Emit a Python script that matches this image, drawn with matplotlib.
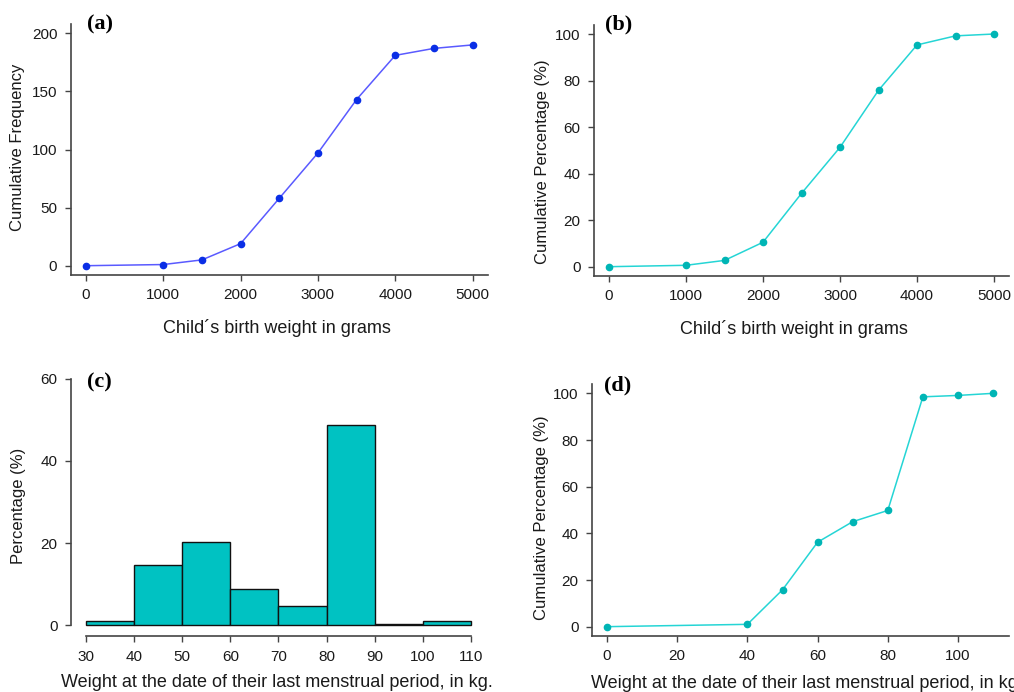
'''Birth weight and maternal weight: cumulative curves and histogram (4 panels)'''
import numpy as np
from matplotlib import pyplot as plt

plt.rcParams['font.family'] = ['Liberation Sans', 'DejaVu Sans']

# child's birth weight in grams
birth_weight = [0, 1000, 1500, 2000, 2500, 3000, 3500, 4000, 4500, 5000]
cum_frequency = [0, 1, 5, 19, 58, 97, 143, 181, 187, 190]
cum_percentage = [0, 0.6, 2.7, 10.5, 31.5, 51.3, 75.8, 95.3, 99.2, 100]

# mother's weight at last menstrual period (kg)
weight_bins = [30, 40, 50, 60, 70, 80, 90, 100, 110]
weight_pct = [1.0, 14.7, 20.2, 8.9, 4.6, 48.7, 0.4, 1.0]
weight_x = [0, 40, 50, 60, 70, 80, 90, 100, 110]
weight_cum_pct = [0, 1.0, 15.8, 36.2, 45.0, 49.8, 98.5, 99.1, 100]

W, H = 1014, 692
AXIS_COL = '#444444'
TXT_COL = '#1a1a1a'
TICK_FS = 11
XLAB_FS = 13
YLAB_FS = 12


def px_rect(left, top, right, bottom):
    return [left / W, 1 - bottom / H, (right - left) / W, (bottom - top) / H]


def style_axes(ax):
    for side in ['top', 'right']:
        ax.spines[side].set_visible(False)
    for side in ['left', 'bottom']:
        ax.spines[side].set_color(AXIS_COL)
        ax.spines[side].set_linewidth(1.2)
    ax.tick_params(direction='out', length=4.5, width=1.0, color=AXIS_COL,
                   labelsize=TICK_FS, labelcolor=TXT_COL, pad=5)


def set_labels(ax, xlabel, ylabel, xpos, ypos):
    ax.set_xlabel(xlabel, fontsize=XLAB_FS, color=TXT_COL)
    ax.set_ylabel(ylabel, fontsize=YLAB_FS, color=TXT_COL)
    ax.xaxis.set_label_coords(*xpos)
    ax.yaxis.set_label_coords(*ypos)
    ax.xaxis.label.set_va('center')
    ax.yaxis.label.set_va('center')


def panel_tag(ax, tag, x, y):
    ax.text(x, y, tag, transform=ax.transAxes, fontsize=16, fontweight='bold',
            family=['Liberation Serif', 'DejaVu Serif'], va='center', ha='left')


fig = plt.figure(figsize=(W / 100, H / 100), dpi=100)

# (a) cumulative frequency
ax = fig.add_axes(px_rect(70.5, 24, 488, 275))
ax.plot(birth_weight, cum_frequency, '-', color='#5a5aff', lw=1.1)
ax.plot(birth_weight, cum_frequency, 'o', color='#0a2ee6', ms=4.5)
ax.set_xlim(-200, 5200)
ax.set_ylim(-8, 208)
ax.set_xticks(range(0, 5001, 1000))
ax.set_yticks(range(0, 201, 50))
style_axes(ax)
set_labels(ax, 'Child\u00b4s birth weight in grams', 'Cumulative Frequency',
           (0.495, -0.21), (-0.126, 0.51))
panel_tag(ax, '(a)', 0.04, 1.0)

# (b) cumulative percentage
ax = fig.add_axes(px_rect(593.6, 24.7, 1009.4, 276))
ax.plot(birth_weight, cum_percentage, '-', color='#25d5d5', lw=1.1)
ax.plot(birth_weight, cum_percentage, 'o', color='#00b5b5', ms=4.5)
ax.set_xlim(-200, 5200)
ax.set_ylim(-4, 104)
ax.set_xticks(range(0, 5001, 1000))
ax.set_yticks(range(0, 101, 20))
style_axes(ax)
set_labels(ax, 'Child\u00b4s birth weight in grams', 'Cumulative Percentage (%)',
           (0.482, -0.21), (-0.124, 0.455))
panel_tag(ax, '(b)', 0.027, 1.0)

# (c) histogram
ax = fig.add_axes(px_rect(70.6, 369, 486.4, 635))
ax.bar(weight_bins[:-1], weight_pct, width=np.diff(weight_bins), align='edge',
       color='#00c2c2', edgecolor='#111111', linewidth=1.0)
ax.set_xlim(26.8, 113.2)
ax.set_ylim(-2.4, 62.4)
ax.set_xticks(weight_bins)
ax.set_yticks(range(0, 61, 20))
style_axes(ax)
ax.spines['left'].set_bounds(0, 60)
ax.spines['bottom'].set_bounds(30, 110)
ax.spines['bottom'].set_position(('outward', 1))
set_labels(ax, 'Weight at the date of their last menstrual period, in kg.', 'Percentage (%)',
           (0.495, -0.18), (-0.126, 0.485))
panel_tag(ax, '(c)', 0.04, 0.95)

# (d) cumulative percentage of weight
ax = fig.add_axes(px_rect(591.6, 384, 1008.5, 636))
ax.plot(weight_x, weight_cum_pct, '-', color='#25d5d5', lw=1.1)
ax.plot(weight_x, weight_cum_pct, 'o', color='#00b5b5', ms=4.5)
ax.set_xlim(-4.4, 114.4)
ax.set_ylim(-4, 104)
ax.set_xticks(range(0, 101, 20))
ax.set_yticks(range(0, 101, 20))
style_axes(ax)
set_labels(ax, 'Weight at the date of their last menstrual period, in kg.', 'Cumulative Percentage (%)',
           (0.517, -0.187), (-0.12, 0.47))
panel_tag(ax, '(d)', 0.03, 0.995)

plt.savefig('out.png', dpi=100)
plt.close()
